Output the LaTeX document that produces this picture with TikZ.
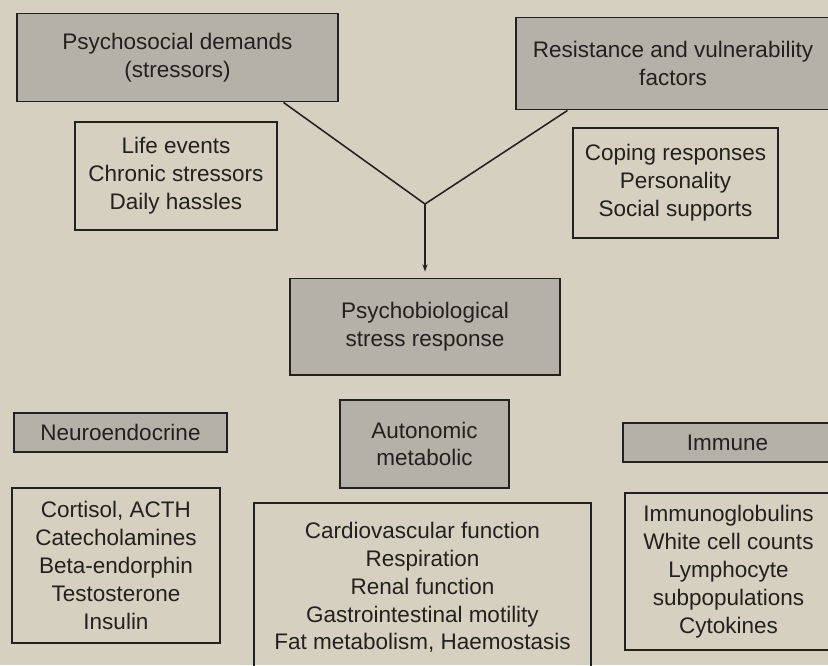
\documentclass[tikz,border=0pt]{standalone}
\usepackage{fontspec}
\setmainfont{Liberation Sans}
\usetikzlibrary{arrows.meta}
\definecolor{paper}{RGB}{214,208,192}
\definecolor{boxgray}{RGB}{180,177,168}
\definecolor{ink}{RGB}{35,33,30}
\begin{document}
\begin{tikzpicture}[x=0.025cm,y=-0.025cm,
  txt/.style={font=\fontsize{16}{19.8}\selectfont,text=ink,align=center,inner sep=0pt},
  grbox/.style={txt,draw=ink,line width=1.4pt,fill=boxgray},
  wbox/.style={txt,draw=ink,line width=1.4pt},
  link/.style={draw=ink,line width=1.1pt}]
\useasboundingbox[fill=paper] (0,0) rectangle (828,665);

\node[grbox,minimum width=8cm,minimum height=2.2cm] (psych) at (177.5,57.5) {Psychosocial demands\\(stressors)};
\node[wbox,minimum width=5.05cm,minimum height=2.7cm] (life) at (176,176) {Life events\\Chronic stressors\\Daily hassles};
\node[grbox,minimum width=7.85cm,minimum height=2.3cm] (resist) at (673,63.5) {Resistance and vulnerability\\factors};
\node[wbox,minimum width=5.12cm,minimum height=2.75cm] (coping) at (675.5,183) {Coping responses\\Personality\\Social supports};

\node[grbox,minimum width=6.75cm,minimum height=2.4cm] (bio) at (425,326.5) {Psychobiological\\stress response};

\node[grbox,minimum width=5.32cm,minimum height=0.97cm] (neuro) at (120.5,432.5) {Neuroendocrine};
\node[grbox,minimum width=4.22cm,minimum height=2.2cm] (auto) at (424.5,444) {Autonomic\\metabolic};
\node[grbox,minimum width=5.22cm,minimum height=0.97cm] (immune) at (727.5,442.5) {Immune};

\node[wbox,minimum width=5.2cm,minimum height=3.87cm] (horm) at (116,565.5) {Cortisol, ACTH\\Catecholamines\\Beta-endorphin\\Testosterone\\Insulin};
\node[wbox,minimum width=8.42cm,minimum height=4.22cm] (organ) at (422.5,587.5) {Cardiovascular function\\Respiration\\Renal function\\Gastrointestinal motility\\Fat metabolism, Haemostasis};
\node[wbox,minimum width=5.17cm,minimum height=3.92cm] (cells) at (728.5,571.5) {Immunoglobulins\\White cell counts\\Lymphocyte\\subpopulations\\Cytokines};

% stressors and resistance meet, then lead to the response
\coordinate (join) at (425,204);
\draw[link] (psych.-23.5) -- (join);
\draw[link] (resist.-156.3) -- (join);
\draw[link,-{Stealth[length=1.8mm,width=1.3mm]},shorten >=0.15cm] (join) -- (bio.north);
\end{tikzpicture}
\end{document}
